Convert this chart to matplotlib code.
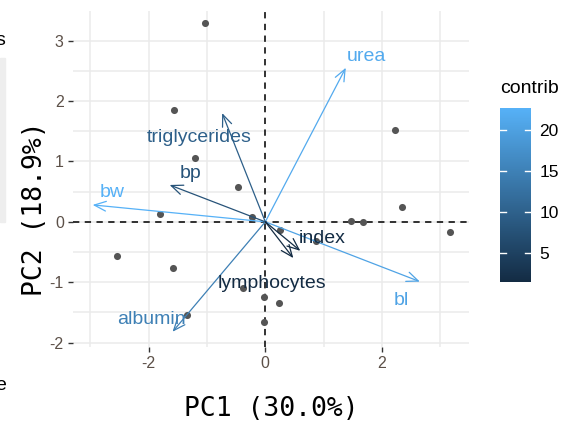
import matplotlib.pyplot as plt
import numpy as np
from matplotlib.colors import LinearSegmentedColormap, Normalize
from matplotlib.cm import ScalarMappable
from matplotlib.patches import Rectangle

plt.rcParams['font.family'] = ['Liberation Sans', 'DejaVu Sans']
plt.rcParams['axes.unicode_minus'] = False

# individuals on the first two components
ind_pc1 = [-1.04, -1.57, -1.20, -0.46, -1.81, -0.22, -2.55, -1.59, -0.38, -0.03,
           0.24, -0.02, -1.35, 0.26, 0.87, 1.47, 1.68, 2.22, 2.34, 3.16]
ind_pc2 = [3.29, 1.85, 1.06, 0.58, 0.13, 0.08, -0.56, -0.76, -1.09, -1.24,
           -1.34, -1.66, -1.54, -0.13, -0.31, 0.02, 0.00, 1.52, 0.25, -0.17]

# variable loadings and their contribution (%)
var_names = ['urea', 'bw', 'triglycerides', 'bp', 'albumin', 'bl', 'index', 'lymphocytes']
var_pc1 = [1.38, -2.96, -0.74, -1.64, -1.59, 2.65, 0.60, 0.48]
var_pc2 = [2.55, 0.28, 1.80, 0.61, -1.82, -0.99, -0.48, -0.60]
contrib = [21.5, 22.6, 9.7, 7.8, 14.9, 20.4, 1.6, 1.5]

# repelled label spots (x centre, baseline)
label_pos = [(1.73, 2.67), (-2.62, 0.41), (-1.13, 1.32), (-1.28, 0.73),
             (-1.95, -1.69), (2.33, -1.37), (0.98, -0.35), (0.11, -1.09)]

var_x = "PC1 (30.0%)"
var_y = "PC2 (18.9%)"

cmap = LinearSegmentedColormap.from_list('gg', ['#132B43', '#56B1F7'])
norm = Normalize(min(contrib), max(contrib))

fig = plt.figure(figsize=(5.69, 4.23), dpi=100)
ax = fig.add_axes([0.128, 0.180, 0.696, 0.794])
ax.set_xlim(-3.30, 3.49)
ax.set_ylim(-2.07, 3.49)

# grid
for v in [-3, -2, -1, 1, 2, 3]:
    ax.axvline(v, color='#ebebeb', lw=1.1, zorder=0)
for v in np.arange(-2, 3.6, 0.5):
    ax.axhline(v, color='#ebebeb', lw=1.1, zorder=0)
for s in ax.spines.values():
    s.set_visible(False)

ax.axhline(0, color='#222222', lw=1.3, ls=(0, (3.5, 3)), zorder=1)
ax.axvline(0, color='#222222', lw=1.3, ls=(0, (3.5, 3)), zorder=1)

ax.scatter(ind_pc1, ind_pc2, s=26, color='#555555', zorder=3, linewidths=0)

for name, x, y, c, (lx, ly) in zip(var_names, var_pc1, var_pc2, contrib, label_pos):
    col = cmap(norm(c))
    ax.annotate('', xy=(x, y), xytext=(0, 0),
                arrowprops=dict(arrowstyle='->,head_length=0.6,head_width=0.25',
                                color=col, lw=0.9, mutation_scale=14,
                                shrinkA=0, shrinkB=0), zorder=4)
    ax.text(lx, ly, name, color=col, fontsize=14, ha='center', va='baseline', zorder=5)

ax.set_xticks([-2, 0, 2])
ax.set_yticks([-2, -1, 0, 1, 2, 3])
ax.tick_params(length=3.5, width=1, color='#333333', labelsize=11.5,
               labelcolor='#5c5048', pad=3)

ax.set_xlabel(var_x, family='DejaVu Sans Mono', fontsize=19, color='black', labelpad=18)
ax.set_ylabel(var_y, family='DejaVu Sans Mono', fontsize=19, color='black')
ax.yaxis.set_label_coords(-0.063, 0.41)

# colour bar
cax = fig.add_axes([0.879, 0.333, 0.0545, 0.411])
cb = fig.colorbar(ScalarMappable(norm=norm, cmap=cmap), cax=cax)
cb.outline.set_visible(False)
cb.set_ticks([5, 10, 15, 20])
cax.tick_params(length=0, labelsize=12.5, pad=6)
for t in [5, 10, 15, 20]:
    cax.plot([0, 0.2], [t, t], color='white', lw=1, transform=cax.get_yaxis_transform())
    cax.plot([0.8, 1.0], [t, t], color='white', lw=1, transform=cax.get_yaxis_transform())
fig.text(0.879, 0.79, 'contrib', fontsize=14, ha='left', va='center')

# leftovers of a neighbouring panel at the left edge
fig.patches.append(Rectangle((0, 0.475), 0.009, 0.387, transform=fig.transFigure,
                             color='#eeeeee', zorder=-1))
fig.text(-0.008, 0.905, 's', fontsize=14, ha='left', va='center')
fig.text(-0.008, 0.088, 'e', fontsize=14, ha='left', va='center')

fig.savefig('out.png', dpi=100)
